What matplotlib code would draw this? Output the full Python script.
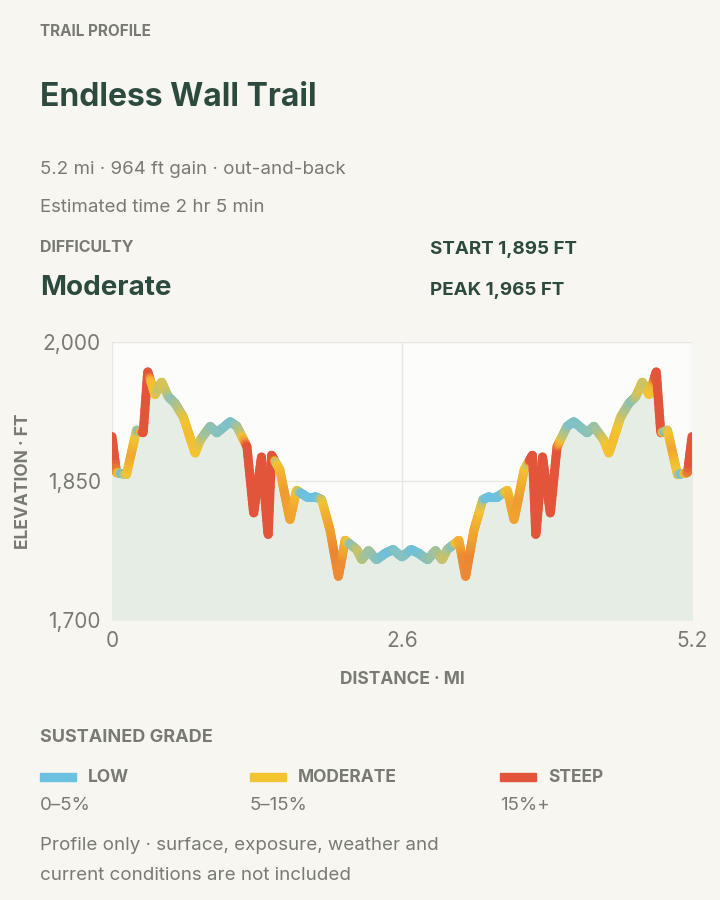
import numpy as np
import matplotlib
matplotlib.use("Agg")
import matplotlib.pyplot as plt
from matplotlib.collections import LineCollection
from matplotlib.colors import LinearSegmentedColormap

plt.rcParams['font.family'] = ['Inter', 'DejaVu Sans']

dist_out = [0.0, 0.04, 0.13, 0.22, 0.28, 0.32, 0.385, 0.445, 0.505, 0.565, 0.64, 0.745, 0.79, 0.88, 0.94,
            1.06, 1.12, 1.21, 1.27, 1.34, 1.40, 1.43, 1.505, 1.595, 1.655, 1.745, 1.82, 1.88, 1.955, 2.03,
            2.09, 2.195, 2.24, 2.30, 2.37, 2.45, 2.52, 2.6]
elev_out = [1898, 1859, 1857, 1905, 1902, 1968, 1943, 1957, 1941, 1934, 1919, 1880, 1894, 1909, 1902,
            1914, 1909, 1887, 1815, 1876, 1790, 1878, 1862, 1808, 1840, 1833, 1833, 1830, 1797, 1747,
            1786, 1776, 1765, 1775, 1765, 1772, 1776, 1768]
dist_back = [2.68, 2.75, 2.83, 2.90, 2.96, 3.005, 3.11, 3.17, 3.245, 3.325, 3.38, 3.455, 3.545, 3.605, 3.695,
             3.77, 3.80, 3.86, 3.93, 3.99, 4.08, 4.14, 4.26, 4.32, 4.41, 4.455, 4.56, 4.635, 4.695, 4.755,
             4.815, 4.88, 4.92, 4.98, 5.07, 5.16, 5.2]
elev_back = [1776, 1772, 1765, 1775, 1765, 1776, 1786, 1747, 1797, 1830, 1833, 1833, 1840, 1808, 1862,
             1878, 1790, 1876, 1815, 1887, 1909, 1914, 1902, 1909, 1894, 1880, 1919, 1934, 1941, 1957,
             1943, 1968, 1902, 1905, 1857, 1859, 1898]
dist = np.array(dist_out + dist_back)
elev = np.array(elev_out + elev_back, dtype=float)

BG = '#f7f6f1'
DARK = '#2d4a3e'
GRAY = '#7a7a74'
C_LOW, C_MOD, C_STEEP = '#6cc0e0', '#f4c430', '#e2553a'

fig = plt.figure(figsize=(7.2, 9), dpi=100, facecolor=BG)

def t(x, y, s, **kw):
    fig.text(x / 720, 1 - y / 900, s, va='center', **kw)

t(40, 31, 'TRAIL PROFILE', fontsize=11, fontweight='bold', color=GRAY)
t(40, 97, 'Endless Wall Trail', fontsize=23, fontweight='bold', color=DARK)
t(40, 169, '5.2 mi · 964 ft gain · out-and-back', fontsize=13.5, color=GRAY)
t(40, 208, 'Estimated time 2 hr 5 min', fontsize=13.5, color=GRAY)
t(40, 248, 'DIFFICULTY', fontsize=11.5, fontweight='bold', color=GRAY)
t(40, 288, 'Moderate', fontsize=20, fontweight='bold', color=DARK)
t(430, 250, 'START 1,895 FT', fontsize=13.5, fontweight='bold', color=DARK)
t(430, 291, 'PEAK 1,965 FT', fontsize=13.5, fontweight='bold', color=DARK)

ax = fig.add_axes([112 / 720, 1 - 620 / 900, 580 / 720, 278 / 900])
ax.set_facecolor('#fcfcfa')
for s in ax.spines.values():
    s.set_visible(False)
ax.set_xlim(0, 5.2)
ax.set_ylim(1700, 2000)
ax.set_xticks([0, 2.6, 5.2], ['0', '2.6', '5.2'])
ax.set_yticks([1700, 1850, 2000], ['1,700', '1,850', '2,000'])
ax.tick_params(length=0, labelsize=15, labelcolor=GRAY, pad=8)
ax.grid(True, color='#e6e6e2', lw=1)
ax.set_axisbelow(True)
ax.set_xlabel('DISTANCE · MI', fontsize=12.5, fontweight='bold', color=GRAY, labelpad=14)
ax.set_ylabel('ELEVATION · FT', fontsize=12.5, fontweight='bold', color=GRAY, labelpad=8)

ax.fill_between(dist, elev, 1700, color='#e5ede5', zorder=1)

xs = np.linspace(0, 5.2, 1200)
ys = np.interp(xs, dist, elev)
seg_grade = np.abs(np.diff(elev)) / (np.diff(dist) * 5280) * 100
mid = (dist[:-1] + dist[1:]) / 2
g = np.interp((xs[:-1] + xs[1:]) / 2, mid, seg_grade)
cmap = LinearSegmentedColormap.from_list('g', [C_LOW, C_MOD, '#f0a030', C_STEEP])
pts = np.column_stack([xs, ys]).reshape(-1, 1, 2)
segs = np.concatenate([pts[:-1], pts[1:]], axis=1)
lc = LineCollection(segs, cmap=cmap, norm=plt.Normalize(1, 16), linewidth=6.5,
                    capstyle='round', joinstyle='round', zorder=3)
lc.set_array(g)
ax.add_collection(lc)

t(40, 738, 'SUSTAINED GRADE', fontsize=13, fontweight='bold', color=GRAY)
for x0, c, name, rng in [(40, C_LOW, 'LOW', '0–5%'), (250, C_MOD, 'MODERATE', '5–15%'),
                         (500, C_STEEP, 'STEEP', '15%+')]:
    fig.patches.append(plt.Rectangle((x0 / 720, 1 - 781 / 900), 36 / 720, 8 / 900,
                                     transform=fig.transFigure, color=c))
    t(x0 + 48, 777, name, fontsize=12.5, fontweight='bold', color=GRAY)
    t(x0, 806, rng, fontsize=13.5, color=GRAY)

t(40, 845, 'Profile only · surface, exposure, weather and', fontsize=13.5, color=GRAY)
t(40, 875, 'current conditions are not included', fontsize=13.5, color=GRAY)

fig.savefig('out.png', dpi=100, facecolor=BG)
